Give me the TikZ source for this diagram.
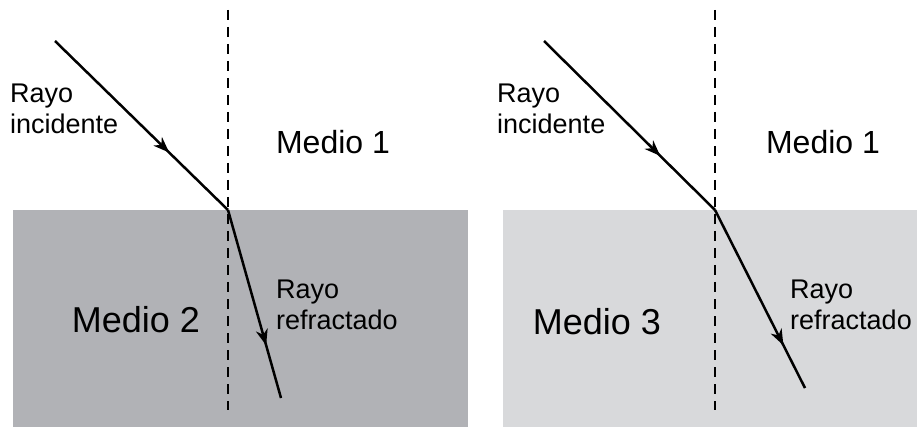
\documentclass[tikz,border=0pt]{standalone}
\usepackage{fontspec}
\setmainfont{Liberation Sans}
\usetikzlibrary{arrows.meta,positioning,decorations.markings}

\definecolor{mediodos}{RGB}{177,178,182}
\definecolor{mediotres}{RGB}{216,217,219}

\begin{document}
\begin{tikzpicture}[
  x=1pt,y=-1pt,
  font=\fontsize{27}{31}\selectfont,
  >={Stealth[length=16pt,width=12pt,inset=5pt]},
  normal/.style={dash pattern=on 10pt off 7pt,line width=1.2pt},
  ray/.style={line width=2.5pt,postaction={decorate},
    decoration={markings,mark=at position #1 with {\arrow{>}}}},
  lbl/.style={align=left,anchor=north west,inner sep=0pt},
  medio/.style={font=\fontsize{32}{36}\selectfont,inner sep=0pt},
  fondo/.style={font=\fontsize{36}{40}\selectfont,inner sep=0pt}
]
\useasboundingbox (0,0) rectangle (917,427);

% left panel
\fill[mediodos] (13,210) rectangle (468,427);
\coordinate (srcA) at (55,41);
\coordinate (hitA) at (228,210);
\coordinate (endA) at (281,398);
\coordinate (topA) at (228,10);
\coordinate (botA) at (228,410);
\draw[normal] (topA) -- (botA);
\draw[ray=0.66] (srcA) -- (hitA);
\draw[ray=0.72] (hitA) -- (endA);
\node[lbl] (incA) at (10,84) {Rayo\\incidente};
\node[medio] (m1A) at (333,142) {Medio 1};
\node[fondo] (m2A) at (136,320) {Medio 2};
\node[lbl] (refA) at (276,280) {Rayo\\refractado};

% right panel
\fill[mediotres] (503,210) rectangle (917,427);
\coordinate (srcB) at (544,41);
\coordinate (hitB) at (715,210);
\coordinate (endB) at (805,388);
\coordinate (topB) at (715,10);
\coordinate (botB) at (715,410);
\draw[normal] (topB) -- (botB);
\draw[ray=0.68] (srcB) -- (hitB);
\draw[ray=0.76] (hitB) -- (endB);
\node[lbl] (incB) at (497,84) {Rayo\\incidente};
\node[medio] (m1B) at (823,142) {Medio 1};
\node[fondo] (m3B) at (597,322) {Medio 3};
\node[lbl] (refB) at (790,280) {Rayo\\refractado};
\end{tikzpicture}
\end{document}
